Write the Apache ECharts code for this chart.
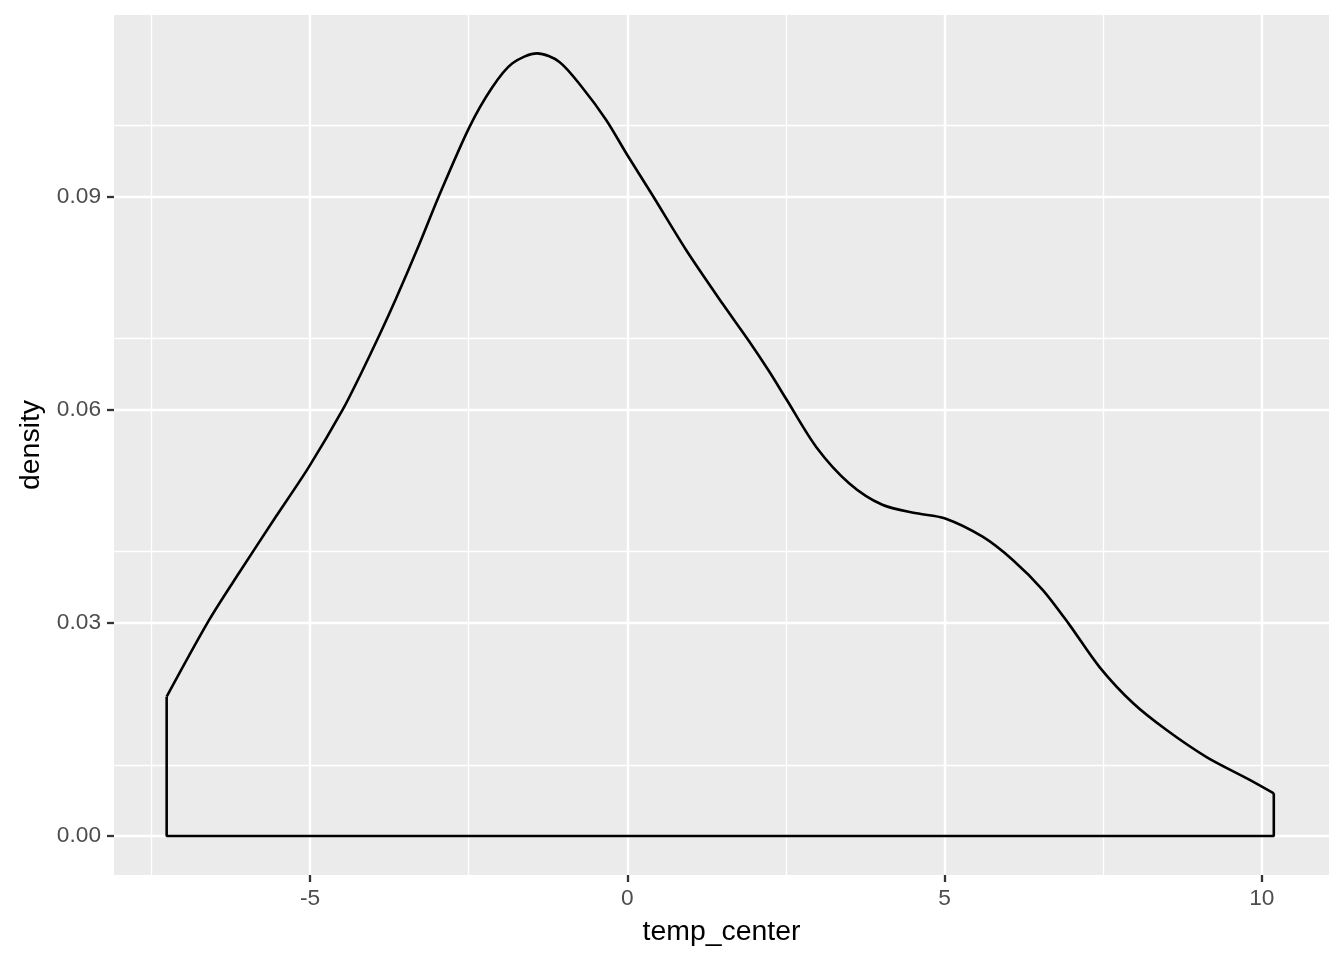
<!DOCTYPE html>
<html>
<head>
<meta charset="utf-8">
<script src="https://cdn.jsdelivr.net/npm/echarts@6/dist/echarts.min.js"></script>
<style>html,body{margin:0;padding:0;background:#fff;}#c{width:1344px;height:960px;}</style>
</head>
<body>
<div id="c"></div>
<script>
// density curve of temp_center
const curveX = [-7.26, -6.59, -6.12, -5.54, -5.02, -4.49, -4.20, -3.91, -3.65, -3.28, -2.97, -2.49, -2.13, -1.81, -1.42, -1.07, -0.71, -0.33, 0, 0.40, 0.93, 1.50, 1.92, 2.24, 2.51, 2.98, 3.50, 4.02, 4.56, 5.0, 5.6, 6.08, 6.55, 6.97, 7.44, 7.97, 8.50, 9.13, 9.81, 10.19];
const curveY = [0.0196, 0.0304, 0.0370, 0.0449, 0.0519, 0.0599, 0.0650, 0.0704, 0.0755, 0.0832, 0.0900, 0.0997, 0.1053, 0.1087, 0.1101, 0.1089, 0.1053, 0.1007, 0.0958, 0.0901, 0.0824, 0.0749, 0.0696, 0.0653, 0.0614, 0.0547, 0.0496, 0.0466, 0.0454, 0.0447, 0.0421, 0.0388, 0.0346, 0.0297, 0.0238, 0.0187, 0.0149, 0.0111, 0.0079, 0.0060];
const xTicks = [-5, 0, 5, 10];
const xMinor = [-7.5, -2.5, 2.5, 7.5];
const yTicks = [0, 0.03, 0.06, 0.09];
const yMinor = [0.015, 0.045, 0.075, 0.105];
const xTitle = 'temp_center';
const yTitle = 'density';

const xMin = -8.09, xMax = 11.06, yMin = -0.00549, yMax = 0.1155;
const font = '"Liberation Sans", Arial, sans-serif';

const curve = curveX.map((x, i) => [x, curveY[i]]);
const n = curve.length;
const outline = [curve[0], [curveX[0], 0], [curveX[n - 1], 0], curve[n - 1]];

function vLines(vals, w) {
  return vals.map(v => ({ xAxis: v, lineStyle: { color: '#ffffff', width: w, type: 'solid' } }));
}
function hLines(vals, w) {
  return vals.map(v => ({ yAxis: v, lineStyle: { color: '#ffffff', width: w, type: 'solid' } }));
}

const tickStyle = { show: true, length: 7, lineStyle: { color: '#333333', width: 2.3 } };
const hiddenLine = { show: true, onZero: false, lineStyle: { color: 'rgba(0,0,0,0)', width: 0 } };

const chart = echarts.init(document.getElementById('c'), null, { renderer: 'canvas' });
chart.setOption({
  animation: false,
  backgroundColor: '#ffffff',
  grid: { left: 114, right: 15, top: 15, bottom: 85, show: true, backgroundColor: '#EBEBEB', borderWidth: 0 },
  xAxis: {
    type: 'value', min: xMin, max: xMax,
    name: xTitle, nameLocation: 'middle', nameGap: 43,
    nameTextStyle: { color: '#000', fontSize: 28.4, fontFamily: font },
    axisLine: hiddenLine,
    splitLine: { show: false },
    axisTick: Object.assign({ customValues: xTicks }, tickStyle),
    axisLabel: { customValues: xTicks, color: '#4D4D4D', fontSize: 22.7, fontFamily: font, margin: 12 }
  },
  yAxis: {
    type: 'value', min: yMin, max: yMax,
    name: yTitle, nameLocation: 'middle', nameGap: 69, nameRotate: 90,
    nameTextStyle: { color: '#000', fontSize: 28.4, fontFamily: font },
    axisLine: hiddenLine,
    splitLine: { show: false },
    axisTick: Object.assign({ customValues: yTicks }, tickStyle),
    axisLabel: { customValues: yTicks, color: '#4D4D4D', fontSize: 22.7, fontFamily: font, margin: 13,
      formatter: v => v.toFixed(2) }
  },
  series: [
    {
      type: 'line', data: [], silent: true, z: 1,
      markLine: {
        silent: true, symbol: ['none', 'none'], label: { show: false }, animation: false,
        data: [].concat(vLines(xMinor, 1.3), hLines(yMinor, 1.3), vLines(xTicks, 2.4), hLines(yTicks, 2.4))
      }
    },
    {
      type: 'line', data: curve, smooth: 0.3, showSymbol: false, silent: true, z: 5,
      lineStyle: { color: '#000000', width: 2.6 }
    },
    {
      type: 'line', data: outline, smooth: false, showSymbol: false, silent: true, z: 5,
      lineStyle: { color: '#000000', width: 2.6 }
    }
  ]
});
</script>
</body>
</html>
